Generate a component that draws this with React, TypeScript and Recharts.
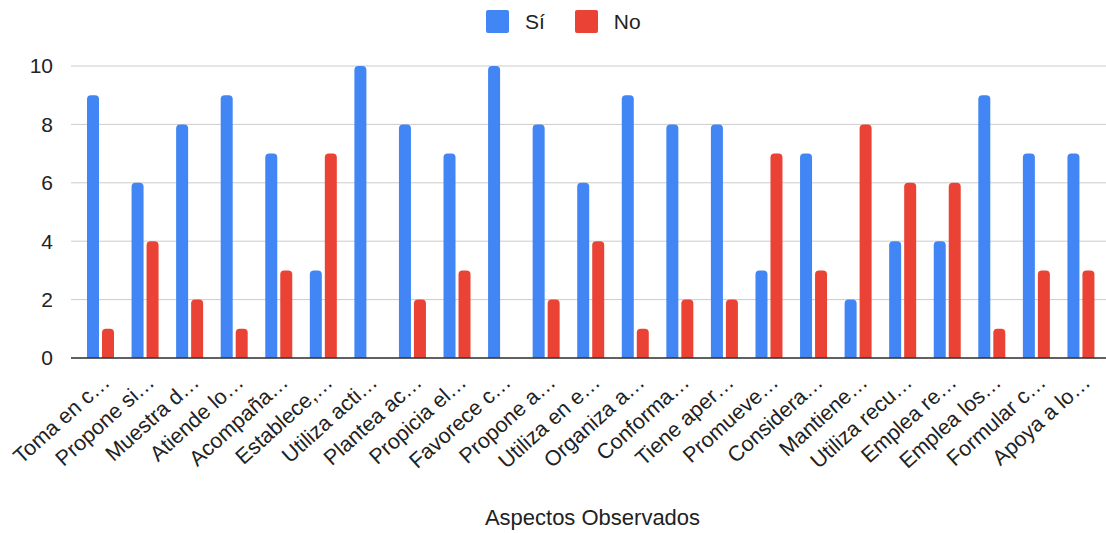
import { BarChart, Bar, XAxis, YAxis, CartesianGrid, Legend } from 'recharts';

const categories = [
  'Toma en c…', 'Propone si…', 'Muestra d…', 'Atiende lo…', 'Acompaña…', 'Establece,…',
  'Utiliza acti…', 'Plantea ac…', 'Propicia el…', 'Favorece c…', 'Propone a…', 'Utiliza en e…',
  'Organiza a…', 'Conforma…', 'Tiene aper…', 'Promueve…', 'Considera…', 'Mantiene…',
  'Utiliza recu…', 'Emplea re…', 'Emplea los…', 'Formular c…', 'Apoya a lo…',
];
const siValues = [9, 6, 8, 9, 7, 3, 10, 8, 7, 10, 8, 6, 9, 8, 8, 3, 7, 2, 4, 4, 9, 7, 7];
const noValues = [1, 4, 2, 1, 3, 7, 0, 2, 3, 0, 2, 4, 1, 2, 2, 7, 3, 8, 6, 6, 1, 3, 3];
const yTicks = [0, 2, 4, 6, 8, 10];

const SERIES = [
  { key: 'si', name: 'Sí', color: '#4285F4' },
  { key: 'no', name: 'No', color: '#EA4335' },
];

const FONT = '"Liberation Sans", Arial, sans-serif';

const data = categories.map((name, i) => ({ name, si: siValues[i], no: noValues[i] }));

function SlantedTick({ x, y, payload }: any) {
  const tx = x + 11;
  const ty = y + 26;
  return (
    <text
      x={tx}
      y={ty}
      textAnchor="end"
      fill="#222"
      fontSize={21.5}
      fontFamily={FONT}
      transform={`rotate(-42, ${tx}, ${ty})`}
    >
      {payload.value}
    </text>
  );
}

function TopLegend() {
  return (
    <div style={{ height: 66, boxSizing: 'border-box', paddingTop: 10, paddingLeft: 486, display: 'flex', fontFamily: FONT }}>
      {SERIES.map((s) => (
        <div key={s.key} style={{ display: 'flex', alignItems: 'center', height: 23, marginRight: 30 }}>
          <div style={{ width: 23, height: 23, borderRadius: 2, background: s.color }} />
          <span style={{ marginLeft: 16, fontSize: 21, color: '#222' }}>{s.name}</span>
        </div>
      ))}
    </div>
  );
}

export default function App() {
  return (
    <div style={{ position: 'absolute', left: 0, top: 0, background: '#fff' }}>
      <BarChart
        width={1106}
        height={533}
        data={data}
        margin={{ top: 0, right: 0, left: 0, bottom: 0 }}
        barSize={12}
        barGap={3}
      >
        <CartesianGrid vertical={false} stroke="#ccc" />
        <XAxis
          dataKey="name"
          interval={0}
          height={175}
          tickSize={0}
          tickMargin={0}
          tickLine={false}
          axisLine={{ stroke: '#333', strokeWidth: 1.5 }}
          padding={{ left: 7, right: 3 }}
          tick={<SlantedTick />}
          label={{
            value: 'Aspectos Observados',
            position: 'insideBottom',
            offset: 8,
            dx: 4,
            fill: '#222',
            fontSize: 22,
            fontFamily: FONT,
          }}
        />
        <YAxis
          width={71}
          domain={[0, 10]}
          ticks={yTicks}
          axisLine={false}
          tickLine={false}
          tickMargin={12}
          tick={{ fill: '#222', fontSize: 21, fontFamily: FONT }}
        />
        <Legend verticalAlign="top" align="left" content={<TopLegend />} />
        {SERIES.map((s) => (
          <Bar
            key={s.key}
            dataKey={s.key}
            name={s.name}
            fill={s.color}
            radius={[4, 4, 0, 0]}
            isAnimationActive={false}
          />
        ))}
      </BarChart>
    </div>
  );
}
